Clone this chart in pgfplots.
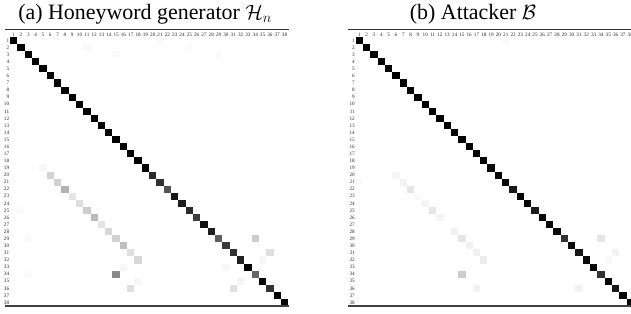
\documentclass[border=0pt]{standalone}
\usepackage{pgfplots}
\pgfplotsset{compat=1.18}
\usepackage{pgfplotstable}
\usepackage{fontspec}
\setmainfont{Liberation Serif}

% columns: col row value (1 = black)
\pgfplotstableread{
x y c
1 1 1.0
2 2 1.0
3 3 1.0
4 4 1.0
5 5 1.0
6 6 1.0
7 7 1.0
8 8 1.0
9 9 1.0
10 10 1.0
11 11 1.0
12 12 1.0
13 13 1.0
14 14 1.0
15 15 1.0
16 16 1.0
17 17 1.0
18 18 1.0
19 19 0.98
20 20 0.83
21 21 0.80
22 22 0.67
23 23 0.90
24 24 0.88
25 25 0.83
26 26 0.75
27 27 0.93
28 28 0.87
29 29 0.62
30 30 0.77
31 31 0.80
32 32 0.87
33 33 1.0
34 34 0.60
35 35 0.96
36 36 0.80
37 37 1.0
38 38 1.0
21 1 0.02
11 2 0.02
25 2 0.02
1 3 0.02
15 3 0.02
29 3 0.02
5 19 0.03
6 20 0.17
1 21 0.02
7 21 0.18
8 22 0.30
9 23 0.10
10 24 0.13
2 25 0.02
11 25 0.20
12 26 0.27
13 27 0.10
14 28 0.15
3 29 0.02
15 29 0.18
34 29 0.20
16 30 0.25
17 31 0.12
36 31 0.12
18 32 0.15
35 32 0.03
16 33 0.03
30 33 0.03
3 34 0.02
15 34 0.45
18 35 0.03
32 35 0.04
17 36 0.12
31 36 0.12
}\tableA

\pgfplotstableread{
x y c
1 1 1.0
2 2 1.0
3 3 1.0
4 4 1.0
5 5 1.0
6 6 1.0
7 7 1.0
8 8 1.0
9 9 1.0
10 10 1.0
11 11 1.0
12 12 1.0
13 13 1.0
14 14 1.0
15 15 1.0
16 16 1.0
17 17 1.0
18 18 1.0
19 19 0.95
20 20 0.97
21 21 0.97
22 22 0.90
23 23 0.97
24 24 0.97
25 25 0.88
26 26 0.97
27 27 0.95
28 28 0.96
29 29 0.80
30 30 0.95
31 31 0.90
32 32 0.95
33 33 0.97
34 34 0.80
35 35 0.97
36 36 0.90
37 37 0.97
38 38 1.0
21 1 0.02
6 20 0.04
1 21 0.02
7 21 0.05
8 22 0.10
9 23 0.02
10 24 0.04
11 25 0.10
12 26 0.04
14 28 0.06
15 29 0.10
34 29 0.10
16 30 0.06
17 31 0.06
36 31 0.05
18 32 0.07
35 32 0.02
15 34 0.20
17 36 0.05
31 36 0.05
}\tableB

\pgfplotsset{
  hm/.style={
    scale only axis,
    width=278.2bp, height=269bp,
    xmin=0.5, xmax=38.5, ymin=0.5, ymax=38.5,
    y dir=reverse,
    anchor=north west,
    axis line style={draw=none},
    tick style={draw=none},
    major tick length=0pt,
    xtick={1,...,38}, ytick={1,...,38},
    xticklabel pos=upper,
    tick label style={font=\fontsize{5.2}{5.2}\selectfont, inner sep=0.7bp, text=black!85},
    /pgf/number format/assume math mode=true,
    colormap={bw}{gray(0cm)=(1); gray(1cm)=(0)},
    point meta min=0, point meta max=1,
    clip=false,
  },
  cells/.style={
    scatter, only marks, mark=square*,
    mark size=3.66bp,
    scatter/use mapped color={draw=mapped color, fill=mapped color},
    mark options={yscale=0.967, line width=0pt, draw opacity=0},
    point meta=explicit,
  }
}

\begin{document}
\begin{tikzpicture}[x=1bp,y=1bp]
\path[use as bounding box] (0,0) rectangle (631,-313);

\node[anchor=base, font=\fontsize{22}{22}\selectfont, inner sep=0pt] at (145,-19.5) {(a) Honeyword generator $\mathcal{H}_n$};
\node[anchor=base, font=\fontsize{22}{22}\selectfont, inner sep=0pt] at (473,-19.5) {(b) Attacker $\mathcal{B}$};

\begin{axis}[hm, at={(10bp,-37bp)}]
\addplot[cells] table[x=x, y=y, meta=c] {\tableA};
\end{axis}

\begin{axis}[hm, at={(355.7bp,-37bp)}]
\addplot[cells] table[x=x, y=y, meta=c] {\tableB};
\end{axis}

\draw[line width=0.8bp, black!80] (5,-29) -- (288.5,-29);
\draw[line width=1.3bp, black!75] (5,-306) -- (288.5,-306);
\draw[line width=0.8bp, black!80] (348,-29) -- (634,-29);
\draw[line width=1.3bp, black!75] (348,-306) -- (634,-306);
\end{tikzpicture}
\end{document}
